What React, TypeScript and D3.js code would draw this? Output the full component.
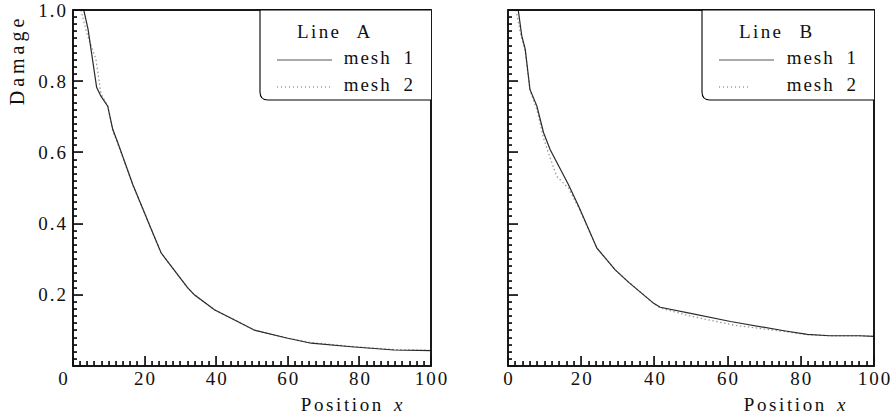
import React from "react";
import * as d3 from "d3";

// ---- data ----
const xTicks = [0, 20, 40, 60, 80, 100];
const yTicks = [0, 0.2, 0.4, 0.6, 0.8, 1.0];
const yTickLabels = ["0", "0.2", "0.4", "0.6", "0.8", "1.0"];

const lineAMesh1X = [3, 4.2, 6.6, 7.8, 9.7, 11.1, 12.5, 16.7, 22.7, 24.6, 26.4, 32, 33.9, 39.5, 45, 50.6, 60, 66.5, 77.7, 89.7, 100];
const lineAMesh1Y = [1.0, 0.946, 0.783, 0.758, 0.73, 0.665, 0.628, 0.51, 0.364, 0.318, 0.294, 0.22, 0.2, 0.158, 0.13, 0.101, 0.078, 0.064, 0.054, 0.045, 0.043];
const lineAMesh2X = [2.2, 4.0, 6.4, 7.8, 9.7, 11.1, 12.5, 16.7, 22.7, 24.6, 26.4, 32, 33.9, 39.5, 45, 50.6, 60, 66.5, 77.7, 89.7, 100];
const lineAMesh2Y = [1.0, 0.93, 0.862, 0.765, 0.73, 0.66, 0.625, 0.508, 0.364, 0.318, 0.294, 0.22, 0.2, 0.158, 0.13, 0.101, 0.078, 0.066, 0.055, 0.046, 0.044];

const lineBMesh1X = [2.8, 3.75, 4.7, 6.0, 7.9, 9.7, 11.5, 16.5, 19.3, 24.3, 26.6, 29.3, 33, 39.8, 41.6, 49.9, 60.8, 75.4, 81.8, 87.8, 96, 100];
const lineBMesh1Y = [1.0, 0.928, 0.89, 0.777, 0.73, 0.656, 0.608, 0.51, 0.449, 0.331, 0.303, 0.27, 0.235, 0.176, 0.165, 0.148, 0.125, 0.099, 0.089, 0.085, 0.085, 0.083];
const lineBMesh2X = [2.2, 3.5, 4.7, 6.0, 7.9, 9.7, 11.5, 13.3, 16.5, 19.3, 24.3, 26.6, 29.3, 33, 39.8, 41.6, 49.9, 61.6, 75.4, 81.8, 87.8, 96, 100];
const lineBMesh2Y = [1.0, 0.93, 0.885, 0.775, 0.72, 0.64, 0.585, 0.533, 0.5, 0.445, 0.331, 0.303, 0.27, 0.235, 0.176, 0.163, 0.14, 0.115, 0.097, 0.088, 0.085, 0.085, 0.083];

const panelTitles = ["Line A", "Line B"];
const seriesNames = ["mesh 1", "mesh 2"];

const FONT = "'Liberation Serif', 'Times New Roman', serif";

type PanelProps = {
  x0: number; x1: number; y0: number; y1: number;
  m1x: number[]; m1y: number[]; m2x: number[]; m2y: number[];
  title: string; showYLabels: boolean; legendLeft: number; legendBottom: number;
  dotLen: number; zeroDx: number;
};

function Panel(p: PanelProps) {
  const x = d3.scaleLinear().domain([0, 100]).range([p.x0, p.x1]);
  const y = d3.scaleLinear().domain([0, 1]).range([p.y1, p.y0]);
  const line = d3.line<[number, number]>().x(d => x(d[0])).y(d => y(d[1]));
  const m1 = line(p.m1x.map((v, i) => [v, p.m1y[i]] as [number, number])) || "";
  const m2 = line(p.m2x.map((v, i) => [v, p.m2y[i]] as [number, number])) || "";
  const xt: number[] = [];
  for (let v = 0; v <= 100; v += 2) xt.push(v);
  const yt: number[] = [];
  for (let i = 0; i <= 50; i++) yt.push(i);
  const r = 8;
  const lb = p.legendBottom;
  const legendPath = `M${p.x1},${p.y0} L${p.legendLeft},${p.y0} L${p.legendLeft},${lb - r} Q${p.legendLeft},${lb} ${p.legendLeft + r},${lb} L${p.x1},${lb}`;
  const textStyle = { fontFamily: FONT, fontSize: 19, letterSpacing: 2, wordSpacing: 5 } as React.CSSProperties;
  return (
    <g>
      {/* curves */}
      <path d={m2} fill="none" stroke="#9a9a9a" strokeWidth={1.3} strokeDasharray="1.5,2.5" />
      <path d={m1} fill="none" stroke="#2a2a2a" strokeWidth={1.2} />
      {/* frame */}
      <rect x={p.x0} y={p.y0} width={p.x1 - p.x0} height={p.y1 - p.y0} fill="none" stroke="#000" strokeWidth={1.8} />
      {/* ticks */}
      {xt.map(v => {
        const h = v % 20 === 0 ? 10 : 5;
        return <rect key={"xt" + v} x={Math.round(x(v)) - 0.8} y={p.y1 - h} width={1.7} height={h} fill="#111" />;
      })}
      {yt.map(i => {
        const w = i % 10 === 0 ? 10 : 4;
        return <rect key={"yt" + i} x={p.x0} y={Math.round(y(i * 0.02)) - 0.8} width={w} height={1.7} fill="#111" />;
      })}
      {/* x tick labels */}
      {xTicks.map((v, i) => (
        <text key={"xl" + v} x={x(v) + (i === 0 ? p.zeroDx : 0) + 1} y={p.y1 + 19} textAnchor="middle" style={textStyle} fill="#111">{v}</text>
      ))}
      {p.showYLabels && yTicks.slice(1).map((v, i) => (
        <text key={"yl" + v} x={p.x0 - 5} y={y(v) + 6.5} textAnchor="end" style={textStyle} fill="#111">{yTickLabels[i + 1]}</text>
      ))}
      {/* x axis title */}
      <text x={p.x1 - 26} y={p.y1 + 45} textAnchor="end" style={{ ...textStyle, letterSpacing: 2.6, wordSpacing: 8 }} fill="#111">
        Position<tspan fontStyle="italic" dx={10}>x</tspan>
      </text>
      {/* legend */}
      <path d={legendPath} fill="#fff" stroke="#000" strokeWidth={1.1} />
      <text x={p.legendLeft + 37} y={p.y0 + 28} style={{ ...textStyle, letterSpacing: 2.4, wordSpacing: 9 }} fill="#111">{p.title}</text>
      <line x1={p.legendLeft + 17} x2={p.legendLeft + 72} y1={p.y0 + 50} y2={p.y0 + 50} stroke="#555" strokeWidth={1} />
      <line x1={p.legendLeft + 17} x2={p.legendLeft + 17 + p.dotLen} y1={p.y0 + 77} y2={p.y0 + 77} stroke="#666" strokeWidth={1.2} strokeDasharray="1,3" />
      <text x={p.x1 - 16} y={p.y0 + 54} textAnchor="end" style={textStyle} fill="#111">{seriesNames[0]}</text>
      <text x={p.x1 - 16} y={p.y0 + 81} textAnchor="end" style={textStyle} fill="#111">{seriesNames[1]}</text>
    </g>
  );
}

export default function App() {
  return (
    <svg width={895} height={417} style={{ position: "absolute", left: 0, top: 0, background: "#fff" }}>
      <rect width={895} height={417} fill="#fff" />
      <Panel x0={73} x1={431} y0={10} y1={366}
        m1x={lineAMesh1X} m1y={lineAMesh1Y} m2x={lineAMesh2X} m2y={lineAMesh2Y}
        title={panelTitles[0]} showYLabels={true} legendLeft={260} legendBottom={100} dotLen={55} zeroDx={-10} />
      <Panel x0={508} x1={874} y0={10} y1={366}
        m1x={lineBMesh1X} m1y={lineBMesh1Y} m2x={lineBMesh2X} m2y={lineBMesh2Y}
        title={panelTitles[1]} showYLabels={false} legendLeft={702} legendBottom={100} dotLen={32} zeroDx={0} />
      <text transform="translate(24,60) rotate(-90)" textAnchor="middle"
        style={{ fontFamily: FONT, fontSize: 20, letterSpacing: 4 }} fill="#111">Damage</text>
    </svg>
  );
}
